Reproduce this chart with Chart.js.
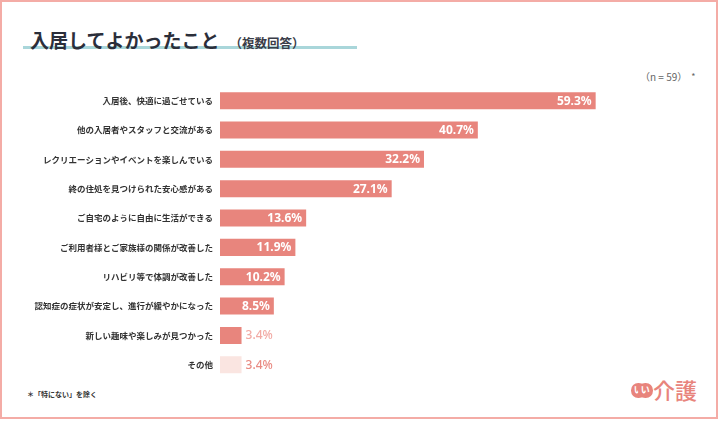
<!DOCTYPE html>
<html lang="ja">
<head>
<meta charset="utf-8">
<script src="https://cdn.jsdelivr.net/npm/chart.js@4/dist/chart.umd.min.js"></script>
<style>
  body { margin: 0; background: #fff; font-family: "Noto Sans CJK JP", "Noto Sans", sans-serif; }
  #wrap { position: relative; width: 720px; height: 421px; overflow: hidden; }
  #frame { position: absolute; left: 0; top: 0; width: 718px; height: 419px; box-sizing: border-box; border: 2px solid #f4aca6; }
  #line { position: absolute; left: 23px; top: 45.5px; width: 334px; height: 3.5px; background: #a9d6da; }
  #title { position: absolute; left: 30px; top: 30px; line-height: 1; font-size: 19px; font-weight: 700; color: #2b2e3a; white-space: nowrap; }
  #title small { font-size: 12.5px; font-weight: 700; color: #3a3d48; margin-left: 10px; }
  #n { position: absolute; left: 640px; top: 72px; font-size: 10px; color: #666; line-height: 1; white-space: nowrap; }
  #n .ast { font-size: 9px; margin-left: 4px; position: relative; top: -1px; }
  #note { position: absolute; left: 27px; top: 391px; font-size: 7px; font-weight: 700; color: #333; line-height: 1; white-space: nowrap; }
  #logo { position: absolute; left: 631px; top: 379px; height: 20px; white-space: nowrap; }
  .dot { position: absolute; top: 4px; width: 14.5px; height: 14.5px; border-radius: 50%; background: #e8847c; color: #fff; font-size: 9px; font-weight: 700; line-height: 14px; text-align: center; }
  #kaigo { position: absolute; left: 22px; top: -1px; font-size: 22px; line-height: 1; color: #e8847c; font-weight: 500; }
  canvas { position: absolute; left: 0; top: 0; }
</style>
</head>
<body>
<div id="wrap">
  <div id="frame"></div>
  <div id="line"></div>
  <div id="title">入居してよかったこと<small>（複数回答）</small></div>
  <div id="n">（n = 59）<span class="ast">*</span></div>
  <div id="note">＊「特にない」を除く</div>
  <div id="logo">
    <span class="dot" style="left:0">い</span>
    <span class="dot" style="left:7px">い</span>
    <span id="kaigo">介護</span>
  </div>
  <canvas id="chart" width="720" height="421"></canvas>
</div>
<script>
// data (%, n = 59)
const categories = [
  '入居後、快適に過ごせている',
  '他の入居者やスタッフと交流がある',
  'レクリエーションやイベントを楽しんでいる',
  '終の住処を見つけられた安心感がある',
  'ご自宅のように自由に生活ができる',
  'ご利用者様とご家族様の関係が改善した',
  'リハビリ等で体調が改善した',
  '認知症の症状が安定し、進行が緩やかになった',
  '新しい趣味や楽しみが見つかった',
  'その他'
];
const values = [59.3, 40.7, 32.2, 27.1, 13.6, 11.9, 10.2, 8.5, 3.4, 3.4];
const axisMax = 60;

const MAIN = '#e8857d';
const OTHER = '#fae5e1';
const lastIdx = categories.length - 1;

// value labels: inside the bar when it fits, outside otherwise
const valueLabels = {
  id: 'valueLabels',
  afterDatasetsDraw(chart) {
    const ctx = chart.ctx;
    const meta = chart.getDatasetMeta(0);
    ctx.save();
    ctx.textBaseline = 'middle';
    meta.data.forEach((bar, i) => {
      const txt = values[i].toFixed(1) + '%';
      if (values[i] > 5) {
        ctx.font = '700 12px "Noto Sans", "Noto Sans CJK JP", sans-serif';
        ctx.fillStyle = '#fff';
        ctx.textAlign = 'right';
        ctx.fillText(txt, bar.x - 4, bar.y + 0.5);
      } else {
        ctx.font = '500 12px "Noto Sans", "Noto Sans CJK JP", sans-serif';
        ctx.fillStyle = i === lastIdx ? '#e98b83' : '#f2aaa4';
        ctx.textAlign = 'left';
        ctx.fillText(txt, bar.x + 4, bar.y + 0.5);
      }
    });
    ctx.restore();
  }
};

new Chart(document.getElementById('chart').getContext('2d'), {
  type: 'bar',
  data: {
    labels: categories,
    datasets: [{
      data: values,
      backgroundColor: categories.map((c, i) => i === lastIdx ? OTHER : MAIN),
      categoryPercentage: 0.58,
      barPercentage: 1,
      borderWidth: 0
    }]
  },
  options: {
    indexAxis: 'y',
    responsive: false,
    animation: false,
    devicePixelRatio: 1,
    layout: { padding: { top: 86, bottom: 41.6, left: 0, right: 720 - 220 - axisMax * 6.335 } },
    plugins: { legend: { display: false }, tooltip: { enabled: false } },
    scales: {
      x: { display: false, min: 0, max: axisMax },
      y: {
        grid: { display: false, drawTicks: false },
        border: { display: false },
        afterFit: s => { s.width = 220; },
        ticks: {
          padding: 7,
          color: '#333',
          font: { family: '"Noto Sans CJK JP", sans-serif', size: 8.5, weight: '700' }
        }
      }
    }
  },
  plugins: [valueLabels]
});
</script>
</body>
</html>
